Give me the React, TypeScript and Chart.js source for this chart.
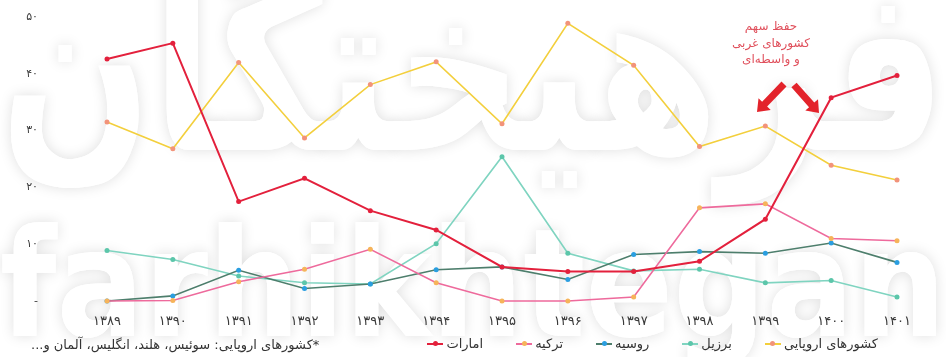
import React, { useEffect, useRef } from 'react';
import { Chart, registerables } from 'chart.js';

Chart.register(...registerables);

const years = ['۱۳۸۹', '۱۳۹۰', '۱۳۹۱', '۱۳۹۲', '۱۳۹۳', '۱۳۹۴', '۱۳۹۵', '۱۳۹۶', '۱۳۹۷', '۱۳۹۸', '۱۳۹۹', '۱۴۰۰', '۱۴۰۱'];
const uae = [42.6, 45.4, 17.5, 21.6, 15.9, 12.5, 6.0, 5.2, 5.2, 7.0, 14.4, 35.8, 39.7];
const europe = [31.5, 26.8, 42.0, 28.7, 38.1, 42.1, 31.2, 48.9, 41.5, 27.2, 30.8, 23.9, 21.3];
const brazil = [8.9, 7.3, 4.4, 3.2, 3.0, 10.1, 25.4, 8.4, 5.3, 5.6, 3.2, 3.6, 0.7];
const russia = [0, 0.9, 5.4, 2.2, 3.0, 5.5, 6.0, 3.8, 8.2, 8.7, 8.4, 10.2, 6.8];
const turkey = [0, 0.1, 3.4, 5.6, 9.1, 3.2, 0, 0, 0.7, 16.4, 17.1, 11.0, 10.6];

const yMin = 0;
const yMax = 50;
const yStep = 10;

const annotationLines = ['حفظ سهم', 'کشورهای غربی', 'و واسطه‌ای'];
const footnote = '*کشورهای اروپایی: سوئیس، هلند، انگلیس، آلمان و...';
const watermarkFa = 'فرهیختگان';
const watermarkEn = 'farhikhtegan';

const FONT = '"DejaVu Sans", sans-serif';

type Series = { name: string; data: number[]; line: string; point: string; width: number };

const series: Series[] = [
  { name: 'امارات', data: uae, line: '#e3203c', point: '#e3203c', width: 2 },
  { name: 'ترکیه', data: turkey, line: '#ee6a9c', point: '#f6b45a', width: 1.6 },
  { name: 'روسیه', data: russia, line: '#4d7e6c', point: '#2a9ee0', width: 1.6 },
  { name: 'برزیل', data: brazil, line: '#7fd4c0', point: '#5cc6aa', width: 1.6 },
  { name: 'کشورهای اروپایی', data: europe, line: '#f3cf3c', point: '#f2937a', width: 1.6 },
];

const toFa = (s: string) => s.replace(/[0-9]/g, (d) => '۰۱۲۳۴۵۶۷۸۹'[Number(d)]);

function drawArrow(ctx: CanvasRenderingContext2D, x1: number, y1: number, x2: number, y2: number, w: number, hw: number, hl: number, color: string) {
  const dx = x2 - x1;
  const dy = y2 - y1;
  const len = Math.hypot(dx, dy);
  const ux = dx / len;
  const uy = dy / len;
  const px = -uy;
  const py = ux;
  const bx = x2 - ux * hl;
  const by = y2 - uy * hl;
  ctx.save();
  ctx.fillStyle = color;
  ctx.beginPath();
  ctx.moveTo(x1 + px * w / 2, y1 + py * w / 2);
  ctx.lineTo(bx + px * w / 2, by + py * w / 2);
  ctx.lineTo(bx + px * hw / 2, by + py * hw / 2);
  ctx.lineTo(x2, y2);
  ctx.lineTo(bx - px * hw / 2, by - py * hw / 2);
  ctx.lineTo(bx - px * w / 2, by - py * w / 2);
  ctx.lineTo(x1 - px * w / 2, y1 - py * w / 2);
  ctx.closePath();
  ctx.fill();
  ctx.restore();
}

function drawStretched(ctx: CanvasRenderingContext2D, text: string, font: string, x0: number, x1: number, baseline: number, rtl: boolean) {
  ctx.save();
  ctx.font = font;
  (ctx as any).direction = rtl ? 'rtl' : 'ltr';
  ctx.textAlign = 'left';
  ctx.textBaseline = 'alphabetic';
  const w = ctx.measureText(text).width;
  const sx = (x1 - x0) / w;
  ctx.translate(x0, baseline);
  ctx.scale(sx, 1);
  ctx.shadowColor = 'rgba(0,0,0,0.13)';
  ctx.shadowBlur = 14;
  ctx.fillStyle = '#ffffff';
  ctx.fillText(text, 0, 0);
  ctx.shadowColor = 'transparent';
  ctx.fillText(text, 0, 0);
  ctx.restore();
}

const watermarkPlugin = {
  id: 'watermarkPlugin',
  beforeDraw(chart: Chart) {
    const ctx = chart.ctx;
    drawStretched(ctx, watermarkFa, `bold 230px ${FONT}`, 0, 946, 150, true);
    drawStretched(ctx, watermarkEn, `bold 150px ${FONT}`, 0, 946, 336, false);
  },
};

const annotationPlugin = {
  id: 'annotationPlugin',
  afterDraw(chart: Chart) {
    const ctx = chart.ctx;
    ctx.save();
    ctx.fillStyle = '#e0505c';
    ctx.font = `12px ${FONT}`;
    ctx.textAlign = 'center';
    ctx.textBaseline = 'middle';
    (ctx as any).direction = 'rtl';
    const ys = [27, 44, 60];
    annotationLines.forEach((t, i) => ctx.fillText(t, 771, ys[i]));
    ctx.restore();
    drawArrow(ctx, 784, 84, 757, 112, 7, 17, 11, '#e3232b');
    drawArrow(ctx, 794, 85, 819, 113, 7, 17, 11, '#e3232b');
  },
};

function Marker({ line, point }: { line: string; point: string }) {
  return (
    <span style={{ position: 'relative', display: 'inline-block', width: 16, height: 2, background: line, verticalAlign: 'middle', margin: '0 3px' }}>
      <span style={{ position: 'absolute', left: 5.5, top: -2, width: 5, height: 5, borderRadius: '50%', background: point }} />
    </span>
  );
}

export default function App() {
  const ref = useRef<HTMLCanvasElement | null>(null);

  useEffect(() => {
    if (!ref.current) return;
    const chart = new Chart(ref.current, {
      type: 'line',
      data: {
        labels: years,
        datasets: series.map((s) => ({
          label: s.name,
          data: s.data,
          borderColor: s.line,
          backgroundColor: s.point,
          borderWidth: s.width,
          pointRadius: 2.5,
          pointBorderWidth: 0,
          pointBackgroundColor: s.point,
          tension: 0,
          clip: false as any,
        })),
      },
      options: {
        responsive: false,
        animation: false,
        layout: { padding: { top: 17, right: 49, bottom: 0, left: 0 } },
        plugins: {
          legend: { display: false },
          tooltip: { enabled: false },
        },
        scales: {
          x: {
            grid: { display: false, drawTicks: false },
            border: { display: false },
            offset: false,
            ticks: { color: '#3a3a3a', font: { family: FONT, size: 13 }, padding: 13, maxRotation: 0, autoSkip: false },
            afterFit: (scale: any) => { scale.height = 56; },
          },
          y: {
            min: yMin,
            max: yMax,
            grid: { display: false, drawTicks: false },
            border: { display: false },
            ticks: {
              stepSize: yStep,
              color: '#3a3a3a',
              font: { family: FONT, size: 11 },
              padding: 69,
              callback: (v: any) => (Number(v) === 0 ? '-' : toFa(String(v))),
            },
            afterFit: (scale: any) => {
              scale.width = 107;
              scale.paddingTop = 0;
              scale.paddingBottom = 0;
            },
          },
        },
      },
      plugins: [watermarkPlugin, annotationPlugin],
    });
    return () => chart.destroy();
  }, []);

  return (
    <div style={{ position: 'fixed', left: 0, top: 0, width: 946, height: 357, background: '#fff', overflow: 'hidden' }}>
      <canvas ref={ref} width={946} height={357} style={{ position: 'absolute', left: 0, top: 0 }} />
      <div style={{ position: 'absolute', left: 31, top: 337, direction: 'rtl', fontFamily: FONT, fontSize: 13, color: '#333', whiteSpace: 'nowrap' }}>
        {footnote}
      </div>
      <div style={{ position: 'absolute', right: 68, top: 336, direction: 'rtl', display: 'flex', gap: 30, fontFamily: FONT, fontSize: 13, color: '#333', whiteSpace: 'nowrap' }}>
        {[...series].reverse().map((s) => (
          <span key={s.name} style={{ display: 'inline-flex', alignItems: 'center' }}>
            <span>{s.name}</span>
            <Marker line={s.line} point={s.point} />
          </span>
        ))}
      </div>
    </div>
  );
}
